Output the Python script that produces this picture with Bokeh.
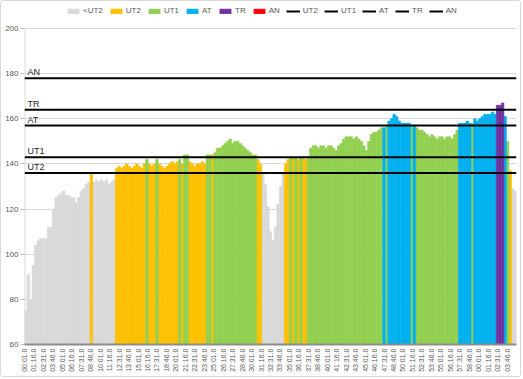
import math
from bokeh.plotting import figure
from bokeh.models import ColumnDataSource, Legend, LegendItem, FixedTicker, Range1d
from bokeh.core.properties import value
from bokeh.embed import file_html
from bokeh.resources import INLINE

# ---- data -------------------------------------------------------------
STEP = 20  # seconds represented by one bar
hr = [
    75, 91, 80, 95, 104, 106, 107, 107, 107, 112,
    112, 120, 125, 126, 127, 128, 126, 126, 125, 125,
    123, 125, 128, 129, 131, 132, 136, 132, 133, 132,
    133, 132, 133, 131, 132, 133, 138, 139, 138, 139,
    140, 139, 138, 139, 140, 139, 138, 140, 142, 140,
    139, 140, 142, 140, 139, 138, 139, 140, 141, 140,
    141, 142, 140, 144, 144, 141, 140, 139, 140, 140,
    141, 140, 144, 144, 144, 145, 147, 147, 148, 149,
    150, 151, 149, 150, 150, 149, 148, 147, 146, 145,
    144, 144, 142, 140, 136, 131, 121, 110, 106, 112,
    122, 130, 136, 140, 142, 143, 143, 143, 142, 143,
    143, 142, 143, 147, 148, 148, 147, 148, 148, 147,
    148, 148, 147, 146, 148, 149, 151, 152, 152, 152,
    151, 152, 151, 150, 148, 146, 150, 153, 154, 154,
    155, 156, 156, 157, 159, 160, 162, 161, 159, 158,
    158, 158, 158, 157, 157, 156, 155, 155, 154, 153,
    152, 153, 152, 151, 152, 152, 151, 152, 152, 151,
    153, 155, 158, 158, 158, 159, 158, 158, 160, 159,
    160, 161, 162, 162, 162, 163, 162, 166, 166, 167,
    161, 150, 137, 129, 128,
]
# (zone index, number of consecutive bars)
zone_runs = [
    (0, 26), (1, 1), (0, 9), (1, 12), (2, 1), (1, 3), (2, 1), (1, 8), (2, 1), (1, 1),
    (2, 2), (1, 7), (2, 2), (1, 1), (2, 17), (1, 2), (0, 9), (1, 2), (2, 1), (1, 1),
    (2, 1), (1, 1), (2, 1), (1, 2), (2, 30), (3, 1), (2, 1), (3, 9), (2, 1), (3, 1),
    (2, 17), (3, 5), (2, 1), (3, 9), (4, 3), (3, 1), (2, 1), (1, 1), (0, 2),
]
zone_names = ["<UT2", "UT2", "UT1", "AT", "TR", "AN"]
zone_colors = ["#D9D9D9", "#FFC000", "#92D050", "#00B0F0", "#7030A0", "#FF0000"]
line_names = ["UT2", "UT1", "AT", "TR", "AN"]
line_values = [136, 143, 157, 164, 178]
tick_labels = [
    "00:01.0", "01:16.0", "02:31.0", "03:46.0", "05:01.0", "06:16.0", "07:31.0", "08:46.0",
    "10:01.0", "11:16.0", "12:31.0", "13:46.0", "15:01.0", "16:16.0", "17:31.0", "18:46.0",
    "20:01.0", "21:16.0", "22:31.0", "23:46.0", "25:01.0", "26:16.0", "27:31.0", "28:46.0",
    "30:01.0", "31:16.0", "32:31.0", "33:46.0", "35:01.0", "36:16.0", "37:31.0", "38:46.0",
    "40:01.0", "41:16.0", "42:31.0", "43:46.0", "45:01.0", "46:16.0", "47:31.0", "48:46.0",
    "50:01.0", "51:16.0", "52:31.0", "53:46.0", "55:01.0", "56:16.0", "57:31.0", "58:46.0",
    "00:01.0", "01:16.0", "02:31.0", "03:46.0",
]
TICK_STEP = 75  # seconds between labels
y_ticks = [60, 80, 100, 120, 140, 160, 180, 200]

# ---- build ------------------------------------------------------------
zones = []
for z, n in zone_runs:
    zones += [z] * n
N = len(hr)
assert len(zones) == N

FONT = "Liberation Sans"
TXT = "#595959"
W, H = 521, 377
TOP, BOTTOM, LEFT, RIGHT = 3, 34, 23, 6
FRAME_H = H - TOP - BOTTOM
HEADROOM = 24  # px above the 200 line, room for the legend inside the frame
Y0, Y1 = y_ticks[0], y_ticks[-1]
Y_MAX = Y1 + HEADROOM * (Y1 - Y0) / (FRAME_H - HEADROOM)

p = figure(width=W, height=H, output_backend="svg", toolbar_location=None,
           x_range=Range1d(0, N * STEP), y_range=Range1d(Y0, Y_MAX),
           min_border_left=LEFT, min_border_right=RIGHT,
           min_border_top=TOP, min_border_bottom=BOTTOM,
           background_fill_color="white", border_fill_color="white",
           styles={"border": "1px solid #D9D9D9", "border-radius": "3px"})
p.outline_line_color = None

# value-axis line only from 60 to 200
p.segment(x0=[0], y0=[Y0], x1=[0], y1=[Y1], line_color="#D9D9D9", line_width=2)

items = []
for zi, (name, col) in enumerate(zip(zone_names, zone_colors)):
    xs = [i * STEP + STEP / 2 for i in range(N) if zones[i] == zi]
    tops = [hr[i] for i in range(N) if zones[i] == zi]
    if not xs:  # zone without data: keep an empty (NaN) row so its legend swatch is drawn
        xs, tops = [float("nan")], [float("nan")]
    src = ColumnDataSource(dict(x=xs, top=tops))
    r = p.vbar(x="x", top="top", bottom=0, width=STEP, source=src,
               fill_color=col, line_color=col, line_width=0.6)
    items.append(LegendItem(label=name, renderers=[r]))

for name, v in zip(line_names, line_values):
    r = p.line(x=[0, N * STEP], y=[v, v], line_color="black", line_width=2)
    items.append(LegendItem(label=name, renderers=[r]))

p.text(x=[0] * len(line_values), y=line_values, text=line_names,
       x_offset=3, y_offset=-1, text_baseline="bottom", text_align="left",
       text_font=value(FONT), text_font_size="9px", text_color="#262626")

# legend in the headroom ((x, y) = its bottom-left corner, from frame bottom-left)
legend = Legend(items=items, orientation="horizontal", location=(40, FRAME_H - 13),
                label_text_font=FONT, label_text_font_size="8px", label_text_color=TXT,
                glyph_width=14, glyph_height=6, label_height=8, label_width=10,
                label_standoff=3, spacing=6, padding=2, margin=0, border_line_alpha=0,
                background_fill_alpha=0)
p.add_layout(legend)

# axes
p.xaxis.ticker = FixedTicker(ticks=[k * TICK_STEP for k in range(len(tick_labels))])
p.xaxis.major_label_overrides = {k * TICK_STEP: lab for k, lab in enumerate(tick_labels)}
p.xaxis.major_label_orientation = math.pi / 2
p.xaxis.major_label_text_font = FONT
p.xaxis.major_label_text_font_size = "7px"
p.xaxis.major_label_text_color = TXT
p.xaxis.major_label_standoff = 4
p.xaxis.major_tick_out = 0
p.xaxis.major_tick_in = 0
p.xaxis.minor_tick_out = 0
p.xaxis.minor_tick_in = 0
p.xaxis.axis_line_color = "#8C8C8C"
p.xaxis.axis_line_width = 2

p.yaxis.ticker = FixedTicker(ticks=y_ticks)
p.yaxis.major_label_text_font = FONT
p.yaxis.major_label_text_font_size = "8px"
p.yaxis.major_label_text_color = TXT
p.yaxis.major_label_standoff = 2
p.yaxis.major_tick_out = 4
p.yaxis.major_tick_in = 0
p.yaxis.minor_tick_out = 0
p.yaxis.minor_tick_in = 0
p.yaxis.major_tick_line_color = "#BFBFBF"
p.yaxis.axis_line_color = None

p.xgrid.visible = False
p.ygrid.grid_line_color = "#D9D9D9"
p.ygrid.grid_line_width = 1

open("out.html", "w").write(file_html(p, INLINE))
